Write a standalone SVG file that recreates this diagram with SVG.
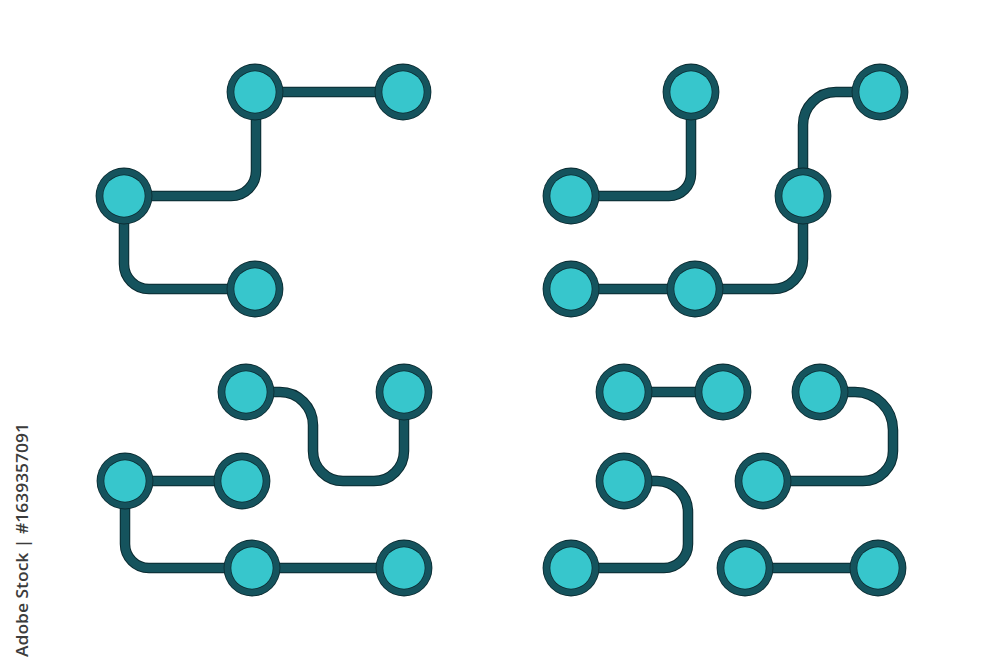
<svg xmlns="http://www.w3.org/2000/svg" xmlns:xlink="http://www.w3.org/1999/xlink" width="1000" height="667" viewBox="0 0 1000 667">
  <style>
    .edge-o { fill: none; stroke: #0a2a30; stroke-width: 10.5; stroke-linecap: round; stroke-linejoin: round; }
    .edge { fill: none; stroke: #15535d; stroke-width: 8.5; stroke-linecap: round; stroke-linejoin: round; }
    .credit { font-family: "Open Sans", "Liberation Sans", sans-serif; font-size: 16px; font-weight: 600; fill: #3c3c3c; }
  </style>
  <defs>
    <g id="node">
      <circle r="28.4" fill="#0a2a30"/>
      <circle r="27.6" fill="#15535d"/>
      <circle r="21.4" fill="#0a2a30"/>
      <circle r="20.7" fill="#37c6cc"/>
    </g>
    <g id="paths">
      <path id="e1" d="M255,92 H403"/>
      <path id="e2" d="M256,92 V171 A25,25 0 0 1 231,196 H124"/>
      <path id="e3" d="M124,196 V264 A25,25 0 0 0 149,289 H255"/>
      <path id="e4" d="M691,92 V174 A22,22 0 0 1 669,196 H571"/>
      <path id="e5" d="M803,196 V125 A33,33 0 0 1 836,92 H880"/>
      <path id="e6" d="M803,196 V259 A30,30 0 0 1 773,289 H695"/>
      <path id="e7" d="M571,289 H695"/>
      <path id="e8" d="M246,392 H280 A33,33 0 0 1 313,425 V451 A30,30 0 0 0 343,481 H374 A30,30 0 0 0 404,451 V392"/>
      <path id="e9" d="M125,481 H242"/>
      <path id="e10" d="M125,481 V544 A24,24 0 0 0 149,568 H252"/>
      <path id="e11" d="M252,568 H404"/>
      <path id="e12" d="M624,392 H723"/>
      <path id="e13" d="M820,392 H855 A38,38 0 0 1 893,430 V451 A30,30 0 0 1 863,481 H763"/>
      <path id="e14" d="M624,481 H657 A31,31 0 0 1 688,512 V544 A24,24 0 0 1 664,568 H571"/>
      <path id="e15" d="M745,568 H878"/>
    </g>
  </defs>
  <rect width="1000" height="667" fill="#ffffff"/>
  <g id="connectors">
    <use xlink:href="#paths" class="edge-o"/>
    <use xlink:href="#paths" class="edge"/>
  </g>
  <g id="group-top-left">
    <g id="n-a"><use xlink:href="#node" x="255" y="92"/></g>
    <g id="n-b"><use xlink:href="#node" x="403" y="92"/></g>
    <g id="n-c"><use xlink:href="#node" x="124" y="196"/></g>
    <g id="n-d"><use xlink:href="#node" x="255" y="289"/></g>
  </g>
  <g id="group-top-right">
    <g id="n-e"><use xlink:href="#node" x="691" y="92"/></g>
    <g id="n-f"><use xlink:href="#node" x="571" y="196"/></g>
    <g id="n-g"><use xlink:href="#node" x="880" y="92"/></g>
    <g id="n-h"><use xlink:href="#node" x="803" y="196"/></g>
    <g id="n-i"><use xlink:href="#node" x="571" y="289"/></g>
    <g id="n-j"><use xlink:href="#node" x="695" y="289"/></g>
  </g>
  <g id="group-bottom-left">
    <g id="n-k"><use xlink:href="#node" x="246" y="392"/></g>
    <g id="n-l"><use xlink:href="#node" x="404" y="392"/></g>
    <g id="n-m"><use xlink:href="#node" x="125" y="481"/></g>
    <g id="n-n"><use xlink:href="#node" x="242" y="481"/></g>
    <g id="n-o"><use xlink:href="#node" x="252" y="568"/></g>
    <g id="n-p"><use xlink:href="#node" x="404" y="568"/></g>
  </g>
  <g id="group-bottom-right">
    <g id="n-q"><use xlink:href="#node" x="624" y="392"/></g>
    <g id="n-r"><use xlink:href="#node" x="723" y="392"/></g>
    <g id="n-s"><use xlink:href="#node" x="820" y="392"/></g>
    <g id="n-t"><use xlink:href="#node" x="624" y="481"/></g>
    <g id="n-u"><use xlink:href="#node" x="763" y="481"/></g>
    <g id="n-v"><use xlink:href="#node" x="571" y="568"/></g>
    <g id="n-w"><use xlink:href="#node" x="745" y="568"/></g>
    <g id="n-x"><use xlink:href="#node" x="878" y="568"/></g>
  </g>
  <text class="credit" transform="translate(28,657) rotate(-90)" textLength="234" lengthAdjust="spacingAndGlyphs">Adobe Stock | #1639357091</text>
</svg>
